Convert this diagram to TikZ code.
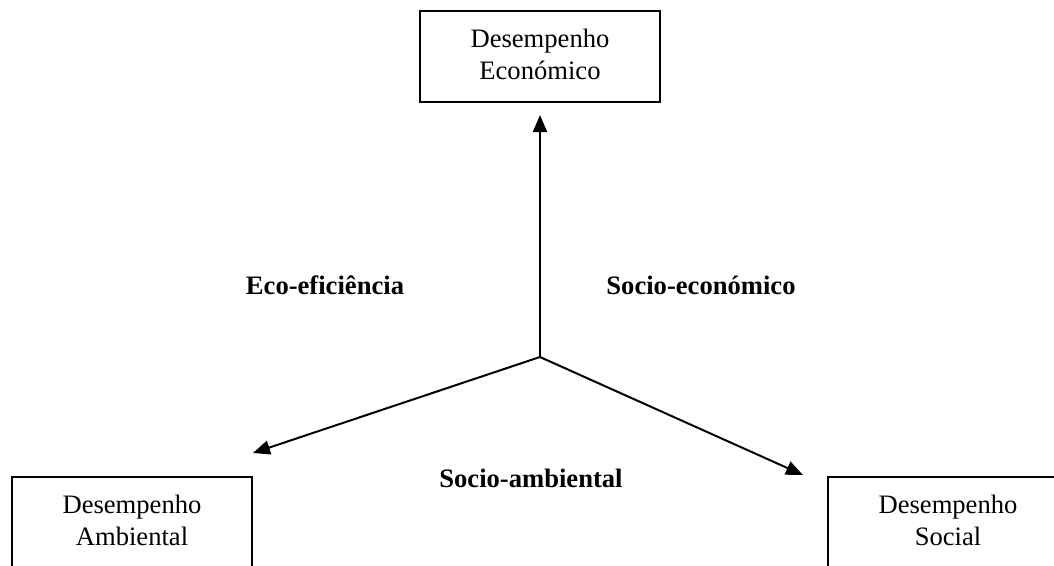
\documentclass[tikz,border=0pt]{standalone}
\usepackage{fontspec}
\setmainfont{Liberation Serif}
\usetikzlibrary{arrows.meta}
\tikzset{
  boxshape/.style={draw=black, line width=2pt, rectangle, minimum width=240pt, inner sep=0pt},
  boxtext/.style={align=center, inner sep=0pt, font=\fontsize{26.6}{32}\selectfont},
  lbl/.style={inner sep=0pt, font=\fontsize{26.6}{32}\selectfont\bfseries},
  arr/.style={line width=2pt, -{Triangle[length=17pt,width=14pt]}}
}
\begin{document}
\begin{tikzpicture}[x=1pt,y=-1pt]
\useasboundingbox (0,0) rectangle (1054,565);
\clip (0,0) rectangle (1054,565);
% boxes
\node[boxshape, minimum height=91pt] (eco) at (539.5,56.5) {};
\node[boxtext] (ecot) at (540,54) {Desempenho\\Económico};
\node[boxshape, minimum height=110pt] (amb) at (132,532) {};
\node[boxtext] (ambt) at (132,520) {Desempenho\\Ambiental};
\node[boxshape, minimum height=110pt] (soc) at (948,532) {};
\node[boxtext] (soct) at (948,520) {Desempenho\\Social};
% connectors
\coordinate (c) at (540,357);
\coordinate (tipE) at (540,115);
\coordinate (tipA) at (253,453);
\coordinate (tipS) at (803,475);
\draw[arr] (c) -- (tipE);
\draw[arr] (c) -- (tipA);
\draw[arr] (c) -- (tipS);
% labels
\node[lbl] (l1) at (325,285) {Eco-eficiência};
\node[lbl] (l2) at (701,285) {Socio-económico};
\node[lbl] (l3) at (531,478) {Socio-ambiental};
\end{tikzpicture}
\end{document}
